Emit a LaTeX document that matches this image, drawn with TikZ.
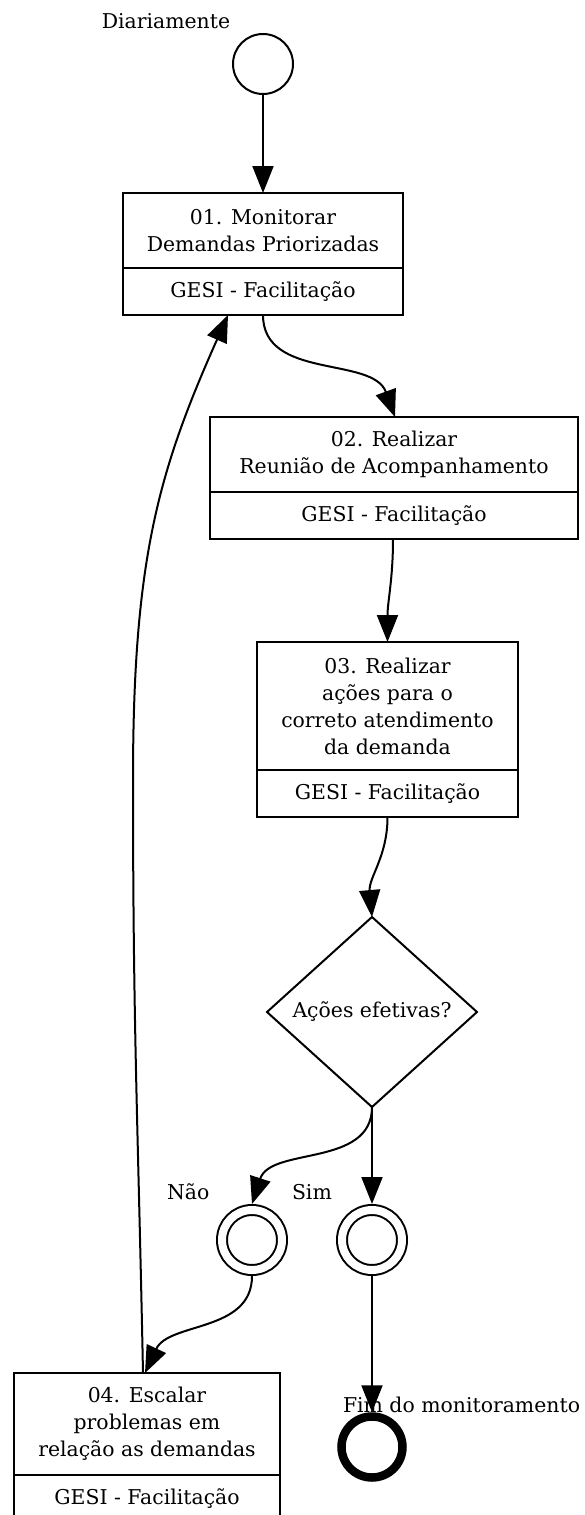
\documentclass[tikz,border=0pt]{standalone}
\usepackage{fontspec}
\setmainfont{DejaVu Serif}
\usetikzlibrary{arrows.meta,shapes.geometric,calc}
\begin{document}
\begin{tikzpicture}[x=1pt, y=1pt,
  every node/.style={font=\fontsize{20.4}{27}\selectfont, outer sep=0pt},
  lw/.style={line width=2pt},
  tasktop/.style={draw, lw, rectangle, inner sep=0pt, align=center, anchor=north},
  taskbot/.style={draw, lw, rectangle, inner sep=0pt, align=center, anchor=north, minimum height=47pt},
  arr/.style={lw, -{Triangle[length=27pt,width=21pt]}},
  evt/.style={circle, draw, lw, double, double distance=8pt, minimum size=60pt, inner sep=0pt, outer sep=6pt},
  lbl/.style={anchor=base west, inner sep=0pt}
]
\useasboundingbox (0,0) rectangle (584,-1515);
\fill[white] (0,0) rectangle (584,-1515);

% start event
\node[circle, draw, lw, minimum size=60pt, inner sep=0pt] (start) at (263,-64) {};
\node[anchor=base, inner sep=0pt] (startlbl) at (166,-28) {Diariamente};

% task 1
\node[tasktop, minimum width=280pt, minimum height=75pt] (t1) at (263,-193) {01. Monitorar\\Demandas Priorizadas};
\node[taskbot, minimum width=280pt] (t1b) at (t1.south) {GESI - Facilitação};

% task 2
\node[tasktop, minimum width=368pt, minimum height=75pt] (t2) at (394,-417) {02. Realizar\\Reunião de Acompanhamento};
\node[taskbot, minimum width=368pt] (t2b) at (t2.south) {GESI - Facilitação};

% task 3
\node[tasktop, minimum width=261pt, minimum height=128pt] (t3) at (387.5,-642) {03. Realizar\\ações para o\\correto atendimento\\da demanda};
\node[taskbot, minimum width=261pt] (t3b) at (t3.south) {GESI - Facilitação};

% decision
\node[diamond, draw, lw, minimum width=210pt, minimum height=190pt, inner sep=0pt, shape aspect=1.1] (dec) at (372,-1012) {Ações efetivas?};

% intermediate events
\node[evt] (nao) at (252,-1240) {};
\node[evt] (sim) at (372,-1240) {};
\node[lbl] (naolbl) at (167,-1199) {Não};
\node[lbl] (simlbl) at (292,-1199) {Sim};

% task 4
\node[tasktop, minimum width=266pt, minimum height=102pt] (t4) at (147,-1373) {04. Escalar\\problemas em\\relação as demandas};
\node[taskbot, minimum width=266pt] (t4b) at (t4.south) {GESI - Facilitação};

% end event
\node[circle, draw, line width=8.5pt, minimum size=61pt, inner sep=0pt, outer sep=4.25pt] (end) at (372,-1447) {};
\node[lbl] (endlbl) at (343,-1412) {Fim do monitoramento};

% connectors
\coordinate (backmid) at (133,-780);
\draw[arr] (start.south) -- (t1.north);
\draw[arr] (t1b.south) to[out=-90,in=110] ($(t2.north)+(1,0)$);
\draw[arr] ($(t2b.south)+(-1,0)$) to[out=-90,in=90] (t3.north);
\draw[arr] (t3b.south) to[out=-90,in=95] (dec.north);
\draw[arr] (dec.south) to[out=-90,in=72] (nao.north);
\draw[arr] (dec.south) -- (sim.north);
\draw[arr] (nao.south) to[out=-90,in=65] ($(t4.north)+(-2,0)$);
\draw[arr] (sim.south) -- (end.north);
\draw[arr] ($(t4.north)+(-4,0)$) .. controls +(-5,250) and +(0,-250) .. (backmid)
  .. controls +(0,220) and +(-70,-157) .. ($(t1b.south)+(-35,0)$);
\end{tikzpicture}
\end{document}
